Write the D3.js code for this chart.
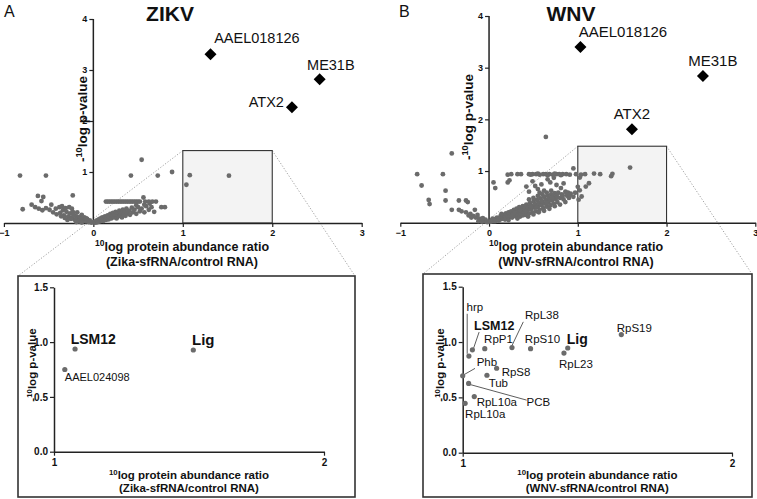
<!DOCTYPE html>
<html><head><meta charset="utf-8">
<script src="https://cdn.jsdelivr.net/npm/d3@7"></script>
<style>body{margin:0;background:#fff}svg{display:block}</style>
</head><body>
<svg id="chart" width="757" height="499"></svg>
<script>
// ---------------- DATA ----------------
const panelLetters = ['A', 'B'];
const panelTitles = ['ZIKV', 'WNV'];
const xAxisTitle = 'log protein abundance ratio';
const xAxisSubtitles = ['(Zika-sfRNA/control RNA)', '(WNV-sfRNA/control RNA)'];
const yAxisTitle = 'log p-value';
const mainXTicks = [-1, 0, 1, 2, 3];
const mainYTicks = [1, 2, 3, 4];
const insetXTicks = [1, 2];
const insetYTicks = [0, 0.5, 1.0, 1.5];
const zoomBoxTop = [1.42, 1.48];

const zikvHits = [
  {name: 'AAEL018126', x: 1.31, y: 3.31},
  {name: 'ME31B', x: 2.53, y: 2.82},
  {name: 'ATX2', x: 2.22, y: 2.27}
];
const wnvHits = [
  {name: 'AAEL018126', x: 1.03, y: 3.40},
  {name: 'ME31B', x: 2.41, y: 2.84},
  {name: 'ATX2', x: 1.61, y: 1.81}
];

const zikvInset = [
  {name: 'LSM12', x: 1.078, y: 0.937},
  {name: 'Lig', x: 1.516, y: 0.928},
  {name: 'AAEL024098', x: 1.04, y: 0.75}
];
const wnvInset = [
  {name: 'hrp', x: 1.023, y: 0.873},
  {name: 'LSM12', x: 1.036, y: 0.93},
  {name: 'RpP1', x: 1.082, y: 0.94},
  {name: 'RpL38', x: 1.183, y: 0.95},
  {name: 'RpS10', x: 1.252, y: 0.94},
  {name: 'Lig', x: 1.39, y: 0.946},
  {name: 'RpL23', x: 1.376, y: 0.90},
  {name: 'RpS19', x: 1.589, y: 1.067},
  {name: 'Phb', x: 1.0, y: 0.695},
  {name: 'RpS8', x: 1.126, y: 0.763},
  {name: 'Tub', x: 1.09, y: 0.70},
  {name: 'PCB', x: 1.022, y: 0.626},
  {name: 'RpL10a', x: 1.043, y: 0.507},
  {name: 'RpL10a ', x: 1.009, y: 0.446}
];

const zikvProteins = [
  [-0.82,0.93],[-0.53,0.93],[-0.79,0.27],[-0.62,0.53],[-0.56,0.51],[-0.58,0.43],[-0.23,0.54],
  [-0.69,0.36],[-0.65,0.31],[-0.61,0.28],[-0.57,0.25],[-0.53,0.29],[-0.47,0.36],[-0.49,0.26],
  [-0.45,0.21],[-0.42,0.28],[-0.38,0.31],[-0.35,0.33],[-0.34,0.25],[-0.31,0.29],[-0.27,0.31],
  [-0.24,0.28],[-0.41,0.17],[-0.37,0.20],[-0.33,0.15],[-0.30,0.22],[-0.28,0.13],[-0.26,0.19],
  [-0.24,0.11],[-0.22,0.17],[-0.21,0.07],[-0.19,0.13],[-0.18,0.21],[-0.17,0.09],[-0.15,0.12],
  [-0.14,0.05],[-0.13,0.16],[-0.12,0.08],[-0.11,0.04],[-0.10,0.11],[-0.09,0.06],[-0.08,0.03],
  [-0.07,0.08],[-0.06,0.04],[-0.05,0.02],[-0.04,0.05],[-0.03,0.02],[-0.02,0.01],[-0.16,0.03],
  [-0.20,0.05],[-0.25,0.08],[-0.29,0.06],[-0.32,0.10],[-0.36,0.13],[-0.23,0.22],[-0.19,0.02],
  [-0.13,0.01],[-0.08,0.09],
  [0.01,0.01],[0.02,0.03],[0.03,0.01],[0.04,0.05],[0.05,0.02],[0.06,0.07],[0.07,0.03],[0.08,0.09],
  [0.09,0.05],[0.10,0.11],[0.11,0.04],[0.12,0.08],[0.13,0.13],[0.14,0.06],[0.15,0.10],[0.16,0.15],
  [0.17,0.07],[0.18,0.12],[0.19,0.18],[0.20,0.09],[0.21,0.14],[0.22,0.20],[0.23,0.11],[0.24,0.16],
  [0.25,0.22],[0.26,0.09],[0.27,0.18],[0.28,0.13],[0.29,0.24],[0.30,0.15],[0.31,0.20],[0.32,0.11],
  [0.33,0.26],[0.34,0.17],[0.35,0.22],[0.36,0.14],[0.37,0.28],[0.38,0.19],[0.40,0.24],[0.41,0.16],
  [0.43,0.30],[0.44,0.21],[0.46,0.26],[0.48,0.18],[0.50,0.31],[0.52,0.23],[0.54,0.28],[0.57,0.21],
  [0.59,0.33],[0.62,0.26],[0.65,0.31],[0.68,0.22],[0.76,0.31],[0.80,0.31],[0.63,0.38],[0.57,0.36],
  [0.48,0.35],[0.56,0.50],
  [0.14,0.42],[0.16,0.42],[0.18,0.42],[0.20,0.42],[0.22,0.42],[0.24,0.42],[0.26,0.42],[0.28,0.42],
  [0.30,0.42],[0.32,0.42],[0.34,0.42],[0.36,0.42],[0.38,0.42],[0.40,0.42],[0.42,0.42],[0.44,0.42],
  [0.46,0.42],[0.48,0.42],[0.50,0.42],[0.52,0.42],[0.58,0.42],[0.62,0.42],[0.66,0.42],[0.70,0.42],
  [0.42,0.93],[0.72,0.93],[0.88,1.00],[0.54,1.24]
];

const wnvProteins = [
  [-0.81,0.94],[-0.52,0.94],[-0.76,0.72],[-0.42,1.34],[-0.49,0.62],[-0.68,0.44],[-0.67,0.36],
  [-0.49,0.43],[-0.34,0.43],[-0.26,0.43],[-0.24,0.40],[-0.42,0.25],[-0.34,0.25],[-0.31,0.22],
  [-0.26,0.20],[-0.16,0.25],[-0.21,0.17],[-0.18,0.13],[-0.15,0.10],[-0.13,0.15],[-0.11,0.08],
  [-0.09,0.05],[-0.07,0.09],[-0.05,0.03],[-0.04,0.06],[-0.02,0.01],[-0.03,0.02],[-0.20,0.10],
  [-0.23,0.14],[-0.12,0.03],[-0.08,0.02],
  [0.05,0.78],[0.07,0.67],
  [0.02,0.02],[0.03,0.05],[0.05,0.03],[0.06,0.07],[0.08,0.05],[0.09,0.10],[0.10,0.06],[0.12,0.09],
  [0.13,0.13],[0.14,0.07],[0.15,0.11],[0.16,0.15],[0.17,0.09],[0.18,0.12],[0.19,0.18],[0.20,0.08],
  [0.21,0.14],[0.22,0.20],[0.23,0.11],[0.24,0.16],[0.25,0.22],[0.26,0.10],[0.27,0.18],[0.28,0.25],
  [0.29,0.13],[0.30,0.20],[0.31,0.27],[0.32,0.15],[0.33,0.22],[0.34,0.30],[0.35,0.12],[0.36,0.18],
  [0.37,0.25],[0.38,0.32],[0.39,0.20],[0.40,0.28],[0.41,0.15],[0.42,0.35],[0.43,0.23],[0.44,0.30],
  [0.45,0.18],[0.46,0.38],[0.47,0.26],[0.48,0.33],[0.49,0.20],[0.50,0.41],[0.51,0.29],[0.52,0.36],
  [0.53,0.22],[0.54,0.44],[0.55,0.31],[0.56,0.38],[0.57,0.25],[0.58,0.47],[0.59,0.34],[0.60,0.41],
  [0.61,0.28],[0.62,0.50],[0.63,0.37],[0.64,0.44],[0.65,0.31],[0.66,0.52],[0.67,0.40],[0.68,0.47],
  [0.69,0.34],[0.70,0.55],[0.71,0.43],[0.72,0.50],[0.73,0.37],[0.74,0.57],[0.75,0.46],[0.76,0.52],
  [0.77,0.40],[0.78,0.58],[0.80,0.48],[0.82,0.55],[0.84,0.45],[0.86,0.60],[0.88,0.52],[0.90,0.48],
  [0.92,0.56],[0.97,0.58],
  [0.04,0.08],[0.07,0.03],[0.11,0.04],[0.14,0.17],[0.18,0.06],[0.22,0.05],[0.25,0.12],[0.29,0.19],
  [0.32,0.08],[0.35,0.24],[0.38,0.14],[0.41,0.22],[0.44,0.12],[0.47,0.32],[0.50,0.16],[0.53,0.30],
  [0.56,0.20],[0.59,0.42],[0.62,0.23],[0.65,0.38],[0.68,0.27],[0.71,0.48],[0.74,0.32],[0.77,0.49],
  [0.80,0.35],[0.83,0.52],[0.86,0.40],[0.89,0.58],[0.60,0.55],[0.65,0.58],[0.70,0.62],[0.55,0.52],
  [0.45,0.45],[0.50,0.48],
  [0.21,0.93],[0.25,0.94],[0.32,0.94],[0.36,0.94],[0.45,0.94],[0.49,0.94],[0.53,0.94],[0.57,0.93],
  [0.61,0.94],[0.64,0.94],[0.68,0.94],[0.72,0.93],[0.76,0.94],[0.79,0.94],[0.83,0.94],[0.87,0.94],
  [0.91,0.93],[0.95,1.05],[0.98,0.94],[0.47,0.93],[0.55,0.95],[0.66,0.92],[0.74,0.95],[0.81,0.92],
  [0.21,0.78],[0.23,0.82],[0.49,0.80],[0.52,0.71],[0.55,0.65],[0.59,0.74],[0.62,0.62],[0.66,0.84],
  [0.69,0.78],[0.73,0.87],[0.76,0.73],[0.81,0.67],[0.84,0.76],[0.87,0.58],[0.91,0.54],[0.95,0.50],
  [0.64,1.66],[0.42,0.70],[0.45,0.60],[0.57,0.58]
];

// ---------------- LAYOUT (pixels) ----------------
const FONT = "'Liberation Sans', Arial, Helvetica, sans-serif";
const DOT = '#6b6b6b';
const AX = '#222';

const layout = [
  {
    xr: [3.9, 361.7], yr: [223, 19], letterX: 4, titleX: 170, xlabX: 182, ylabX: 87, ylabY: 119,
    hitLabels: {AAEL018126: [3.6, -11, 'start'], ME31B: [-12.6, -9.3, 'start'], ATX2: [-8, 0, 'end']},
    hitFont: 14.5,
    inset: {x0: 18, x1: 355, y0: 276, y1: 497, xr: [54, 324], yr: [451.7, 287.3], ylabX: 36},
    insetLabels: {
      LSM12: {d: [-4.4, -5], bold: true, size: 14},
      Lig: {d: [-1.3, -5], bold: true, size: 15},
      AAEL024098: {d: [0, 11.5], bold: false, size: 11}
    }
  },
  {
    xr: [400.3, 755.3], yr: [222.7, 16], letterX: 399, titleX: 571, xlabX: 576, ylabX: 473, ylabY: 117,
    hitLabels: {AAEL018126: [-1.7, -10, 'start'], ME31B: [-14.7, -10, 'start'], ATX2: [-18.3, -10.3, 'start']},
    hitFont: 15,
    inset: {x0: 423, x1: 752, y0: 274, y1: 497, xr: [462.7, 732], yr: [452.7, 286.7], ylabX: 444},
    insetLabels: {
      'hrp': {d: [-2.3, -45.3], size: 11.5, line: [[-1.7, -2.3], [-1.7, -42.3]]},
      'LSM12': {d: [1.7, -20], bold: true, size: 12.5, line: [[1, -1], [6.7, -17.7]]},
      'RpP1': {d: [-0.7, -6], size: 11.5},
      'RpL38': {d: [13, -29], size: 11.5, line: [[0, -2], [11.3, -25.7]]},
      'RpS10': {d: [-5.7, -6], size: 11.5},
      'Lig': {d: [-1, -4], bold: true, size: 14},
      'RpL23': {d: [-5, 15], size: 11.5},
      'RpS19': {d: [-4.6, -2.7], size: 11.5},
      'Phb': {d: [14, -10], size: 11.5, line: [[0.6, -0.7], [12.3, -7.4]]},
      'RpS8': {d: [5, 8], size: 11.5},
      'Tub': {d: [1.7, 11.3], size: 11.5},
      'PCB': {d: [58, 22.4], size: 11.5, line: [[0, 0.7], [58, 16.7]]},
      'RpL10a': {d: [2.4, 9.4], size: 11.5},
      'RpL10a ': {d: [0, 15], size: 11.5}
    }
  }
];

const datasets = [
  {points: zikvProteins, hits: zikvHits, inset: zikvInset},
  {points: wnvProteins, hits: wnvHits, inset: wnvInset}
];

const svg = d3.select('#chart');

function styleAxis(g, fontSize) {
  g.attr('font-family', FONT).attr('font-size', fontSize).attr('font-weight', 'bold');
  g.selectAll('path.domain').attr('stroke', AX).attr('stroke-width', 1.5);
  g.selectAll('.tick line').attr('stroke', AX).attr('stroke-width', 1.2);
  g.selectAll('.tick text').attr('fill', '#111');
}

function supText(g, x, y, size, prefix, main, rotate) {
  const t = g.append('text')
    .attr('transform', `translate(${x},${y})` + (rotate ? ' rotate(-90)' : ''))
    .attr('text-anchor', 'middle').attr('font-family', FONT)
    .attr('font-weight', 'bold').attr('font-size', size).attr('fill', '#111');
  if (prefix) t.append('tspan').text(prefix);
  t.append('tspan').attr('font-size', size * 0.68).attr('dy', -size * 0.38).text('10');
  t.append('tspan').attr('dy', size * 0.38).text(main);
  return t;
}

datasets.forEach((ds, i) => {
  const L = layout[i];
  const g = svg.append('g');
  const x = d3.scaleLinear().domain([-1, 3]).range(L.xr);
  const y = d3.scaleLinear().domain([0, 4]).range(L.yr);
  const I = L.inset;
  const ix = d3.scaleLinear().domain([1, 2]).range(I.xr);
  const iy = d3.scaleLinear().domain([0, 1.5]).range(I.yr);

  // connector dotted lines (zoom box -> inset)
  const conn = [
    [[x(1), y(zoomBoxTop[i])], [I.x0, I.y0]],
    [[x(2), y(zoomBoxTop[i])], [I.x1, I.y0]]
  ];
  g.selectAll('line.conn').data(conn).join('line').attr('class', 'conn')
    .attr('x1', d => d[0][0]).attr('y1', d => d[0][1])
    .attr('x2', d => d[1][0]).attr('y2', d => d[1][1])
    .attr('stroke', '#777').attr('stroke-width', 0.7).attr('stroke-dasharray', '1.2,1.8');

  // zoom box
  g.append('rect')
    .attr('x', x(1)).attr('y', y(zoomBoxTop[i]))
    .attr('width', x(2) - x(1)).attr('height', y(0) - y(zoomBoxTop[i]))
    .attr('fill', '#f3f3f3').attr('stroke', '#333').attr('stroke-width', 1.1);

  // axes
  const xa = g.append('g').attr('transform', `translate(0,${y(0)})`)
    .call(d3.axisBottom(x).tickValues(mainXTicks).tickSize(4).tickSizeOuter(0).tickPadding(3).tickFormat(d3.format('d')));
  styleAxis(xa, 9);
  const ya = g.append('g').attr('transform', `translate(${x(0)},0)`)
    .call(d3.axisLeft(y).tickValues(mainYTicks).tickSize(4).tickSizeOuter(0).tickPadding(2).tickFormat(d3.format('d')));
  styleAxis(ya, 9);
  ya.select('path.domain').attr('d', `M0,${y(0)}V${y(4)}`);

  // protein dots
  g.append('g').selectAll('circle').data(ds.points).join('circle')
    .attr('cx', d => x(d[0])).attr('cy', d => y(d[1])).attr('r', 2.4).attr('fill', DOT);
  g.append('g').selectAll('circle').data(ds.inset).join('circle')
    .attr('cx', d => x(d.x)).attr('cy', d => y(d.y)).attr('r', 2.4).attr('fill', DOT);

  // hits (diamonds)
  g.append('g').selectAll('path').data(ds.hits).join('path')
    .attr('d', d3.symbol().type(d3.symbolSquare).size(72))
    .attr('transform', d => `translate(${x(d.x)},${y(d.y)}) rotate(45)`)
    .attr('fill', '#000');
  g.append('g').selectAll('text').data(ds.hits).join('text')
    .attr('x', d => x(d.x) + L.hitLabels[d.name][0])
    .attr('y', d => y(d.y) + L.hitLabels[d.name][1])
    .attr('text-anchor', d => L.hitLabels[d.name][2])
    .attr('font-family', FONT).attr('font-size', L.hitFont).attr('fill', '#111')
    .text(d => d.name);

  // titles
  g.append('text').attr('x', L.letterX).attr('y', 17).attr('font-family', FONT)
    .attr('font-size', 16).attr('fill', '#111').text(panelLetters[i]);
  g.append('text').attr('x', L.titleX).attr('y', 21).attr('text-anchor', 'middle')
    .attr('font-family', FONT).attr('font-weight', 'bold').attr('font-size', 21)
    .attr('fill', '#111').text(panelTitles[i]);

  // axis titles
  supText(g, L.xlabX, 251, 12.5, '', xAxisTitle, false);
  g.append('text').attr('x', L.xlabX).attr('y', 266).attr('text-anchor', 'middle')
    .attr('font-family', FONT).attr('font-weight', 'bold').attr('font-size', 12.5)
    .attr('fill', '#111').text(xAxisSubtitles[i]);
  supText(g, L.ylabX, L.ylabY, 13.5, '-', yAxisTitle, true);

  // ---------- inset ----------
  const gi = svg.append('g');
  gi.append('rect').attr('x', I.x0).attr('y', I.y0)
    .attr('width', I.x1 - I.x0).attr('height', I.y1 - I.y0)
    .attr('fill', '#fff').attr('stroke', '#333').attr('stroke-width', 1.6);
  const ixa = gi.append('g').attr('transform', `translate(0,${iy(0)})`)
    .call(d3.axisBottom(ix).tickValues(insetXTicks).tickSize(4).tickSizeOuter(0).tickPadding(3).tickFormat(d3.format('d')));
  styleAxis(ixa, 10);
  const iya = gi.append('g').attr('transform', `translate(${ix(1)},0)`)
    .call(d3.axisLeft(iy).tickValues(insetYTicks).tickSize(4).tickSizeOuter(0).tickPadding(2).tickFormat(d3.format('.1f')));
  styleAxis(iya, 10);

  // leader lines
  const withLines = ds.inset.filter(d => L.insetLabels[d.name].line);
  gi.append('g').selectAll('line').data(withLines).join('line')
    .attr('x1', d => ix(d.x) + L.insetLabels[d.name].line[0][0])
    .attr('y1', d => iy(d.y) + L.insetLabels[d.name].line[0][1])
    .attr('x2', d => ix(d.x) + L.insetLabels[d.name].line[1][0])
    .attr('y2', d => iy(d.y) + L.insetLabels[d.name].line[1][1])
    .attr('stroke', '#333').attr('stroke-width', 0.8);

  gi.append('g').selectAll('circle').data(ds.inset).join('circle')
    .attr('cx', d => ix(d.x)).attr('cy', d => iy(d.y)).attr('r', 2.6).attr('fill', DOT);
  gi.append('g').selectAll('text').data(ds.inset).join('text')
    .attr('x', d => ix(d.x) + L.insetLabels[d.name].d[0])
    .attr('y', d => iy(d.y) + L.insetLabels[d.name].d[1])
    .attr('font-family', FONT)
    .attr('font-weight', d => L.insetLabels[d.name].bold ? 'bold' : 'normal')
    .attr('font-size', d => L.insetLabels[d.name].size)
    .attr('fill', '#111')
    .text(d => d.name.trim());

  const imx = (I.xr[0] + I.xr[1]) / 2;
  supText(gi, imx, 479, 11.5, '', xAxisTitle, false);
  gi.append('text').attr('x', imx).attr('y', 491.5).attr('text-anchor', 'middle')
    .attr('font-family', FONT).attr('font-weight', 'bold').attr('font-size', 11.5)
    .attr('fill', '#111').text(xAxisSubtitles[i]);
  supText(gi, I.ylabX, 365, 11.5, '-', yAxisTitle, true);
});
</script>
</body></html>
